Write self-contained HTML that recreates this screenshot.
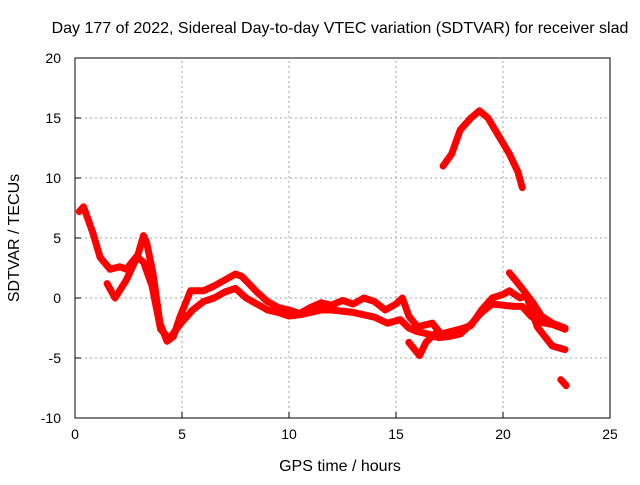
<!DOCTYPE html>
<html><head><meta charset="utf-8"><style>
html,body{margin:0;padding:0;background:#fff;}
svg text{font-family:"Liberation Sans",sans-serif;font-size:14px;fill:#000;}
svg text.big{font-size:16px;}
</style></head><body>
<svg id="chart" width="640" height="480" xmlns="http://www.w3.org/2000/svg">
<text class="big" x="340" y="33" text-anchor="middle">Day 177 of 2022, Sidereal Day-to-day VTEC variation (SDTVAR) for receiver slad</text>
<text class="big" x="340" y="471" text-anchor="middle">GPS time / hours</text>
<text class="big" transform="translate(19,238) rotate(-90)" text-anchor="middle">SDTVAR / TECUs</text>
<g id="grid"></g>
<g id="ticks"></g>
<g id="series"></g>
<rect x="75" y="58" width="535" height="360" fill="none" stroke="#000" stroke-width="1"/>
</svg>
<script>
const xTicks=[0,5,10,15,20,25];
const yTicks=[-10,-5,0,5,10,15,20];
const seriesMain=[[0.2,7.2],[0.4,7.6],[0.6,6.6],[0.84,5.4],[1.17,3.4],[1.64,2.4],[2.1,2.6],[2.4,2.4],[2.94,3.6],[3.2,5.2],[3.35,4.6],[3.64,2.1],[3.97,-2.1],[4.3,-3.6],[4.6,-3.2],[4.9,-1.6],[5.4,0.6],[6,0.6],[6.5,1],[7,1.5],[7.5,2],[7.8,1.8],[8.5,0.5],[9,-0.3],[9.5,-0.8],[10,-1],[10.5,-1.3],[11,-0.8],[11.5,-0.4],[12,-0.6],[12.5,-0.2],[13,-0.5],[13.5,0],[14,-0.3],[14.5,-1],[15,-0.5],[15.3,0],[15.6,-1.5],[16,-2.4],[16.7,-2.1],[17.1,-3],[18,-2.6],[18.5,-2.3],[19,-1],[19.5,0],[20,0.3],[20.3,0.6],[20.8,0],[21.1,0.2],[21.6,-2.4],[22.3,-4],[22.9,-4.3]];
const seriesLow=[[1.5,1.2],[1.87,0],[2.4,1.5],[2.9,3.4],[3.2,3],[3.6,1],[4,-2.6],[4.4,-3.4],[5,-2],[5.5,-1],[6,-0.3],[6.5,0],[7,0.5],[7.5,0.8],[8,0],[8.5,-0.5],[9,-1],[9.5,-1.2],[10,-1.5],[10.5,-1.4],[11,-1.2],[11.5,-1],[12,-1],[13,-1.2],[14,-1.6],[14.6,-2.1],[15.2,-1.8],[15.6,-2.5],[16,-2.8],[16.5,-3],[17,-3.3],[17.5,-3.2],[18,-3],[18.5,-2.2],[19,-1.2],[19.5,-0.5],[20,-0.6],[20.5,-0.7],[20.9,-0.7],[21.3,-1.5],[21.7,-2],[22.3,-2.2],[22.9,-2.6]];
const seriesDip=[[15.6,-3.7],[16.1,-4.8],[16.4,-3.7],[16.8,-3]];
const seriesBranch=[[20.3,2.1],[20.8,1],[21.4,-0.4],[21.8,-1.5],[22.3,-2.1],[22.9,-2.5]];
const seriesArc=[[17.2,11],[17.6,12],[18,14],[18.5,15],[18.9,15.6],[19.3,15],[19.8,13.5],[20.3,12],[20.7,10.5],[20.9,9.2]];
const seriesTail=[[22.7,-6.8],[22.95,-7.3]];
const allSeries=[seriesMain,seriesLow,seriesDip,seriesBranch,seriesArc,seriesTail];
const seriesNames=['series-main','series-low','series-dip','series-branch','series-arc','series-tail'];
const X0=75,X1=610,Y0=418,Y1=58;
function sx(v){return X0+(v-0)/(25-0)*(X1-X0);}
function sy(v){return Y0-(v+10)/(30)*(Y0-Y1);}
const NS='http://www.w3.org/2000/svg';
const grid=document.getElementById('grid'),ticks=document.getElementById('ticks'),ser=document.getElementById('series');
function mk(t,a,p){const e=document.createElementNS(NS,t);for(const k in a)e.setAttribute(k,a[k]);p.appendChild(e);return e;}
xTicks.forEach(t=>{const x=sx(t);
 if(t>0&&t<25){const g=mk('line',{x1:x,y1:Y0,x2:x,y2:Y1,stroke:'#a0a0a0','stroke-dasharray':'2,3'},grid);
 
 }
 const tk=mk('line',{x1:x,y1:Y0,x2:x,y2:Y0-6,stroke:'#000'},ticks);
 
 
 const l=mk('text',{x:x,y:Y0+21,'text-anchor':'middle'},ticks);l.textContent=t;
 
 });
yTicks.forEach(t=>{const y=sy(t);
 if(t>-10&&t<20){const g=mk('line',{x1:X0,y1:y,x2:X1,y2:y,stroke:'#a0a0a0','stroke-dasharray':'2,3'},grid);
 
 }
 const tk=mk('line',{x1:X0,y1:y,x2:X0+6,y2:y,stroke:'#000'},ticks);
 
 
 const l=mk('text',{x:X0-14,y:y+5,'text-anchor':'end'},ticks);l.textContent=t;
 
 });
allSeries.forEach((s,i)=>{
 const p=mk('polyline',{points:s.map(d=>sx(d[0])+','+sy(d[1])).join(' '),fill:'none',stroke:'#ff0000','stroke-width':7,'stroke-linejoin':'round','stroke-linecap':'round'},ser);
 
 
});
</script>
</body></html>
